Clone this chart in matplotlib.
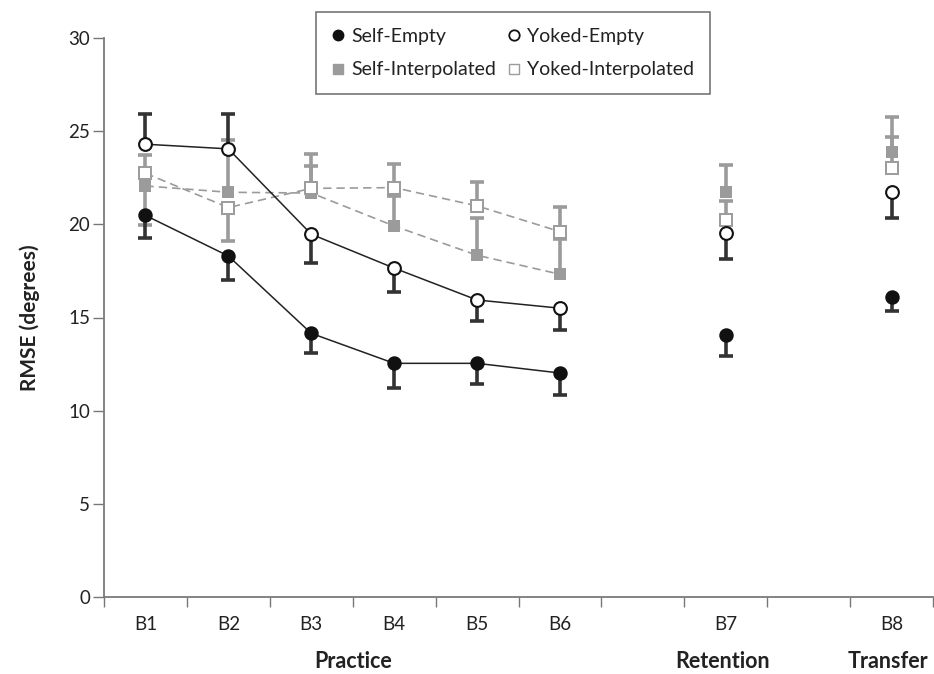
import matplotlib
matplotlib.use("Agg")
import matplotlib.pyplot as plt
from matplotlib.lines import Line2D
import numpy as np

plt.rcParams['font.family'] = ['Lato', 'DejaVu Sans']

blocks = ["B1", "B2", "B3", "B4", "B5", "B6", "B7", "B8"]
block_pos = [0, 1, 2, 3, 4, 5, 7, 9]
phases = ["Practice", "Retention", "Transfer"]

self_empty = [20.48, 18.3, 14.15, 12.54, 12.54, 12.02, 14.06, 16.12]
self_empty_lo = [1.23, 1.3, 1.07, 1.32, 1.1, 1.18, 1.12, 0.75]
self_empty_hi = [0, 0, 0, 0, 0, 0, 0, 0]

yoked_empty = [24.3, 24.05, 19.47, 17.65, 15.94, 15.5, 19.56, 21.76]
yoked_empty_lo = [0, 0, 1.54, 1.26, 1.13, 1.17, 1.43, 1.43]
yoked_empty_hi = [1.6, 1.85, 0, 0, 0, 0, 0, 0]

self_interp = [22.06, 21.72, 21.68, 19.91, 18.34, 17.32, 21.72, 23.9]
self_interp_lo = [2.09, 0, 0, 0, 0, 0, 0, 0]
self_interp_hi = [0, 2.8, 1.47, 1.6, 2.02, 1.9, 1.45, 1.85]

yoked_interp = [22.74, 20.9, 21.93, 21.97, 20.99, 19.61, 20.24, 23.05]
yoked_interp_lo = [0, 1.77, 0, 0, 0, 0, 0, 0]
yoked_interp_hi = [0.96, 0, 1.83, 1.25, 1.27, 1.34, 1.0, 1.63]

DARK = "#111111"
BAR_DARK = "#333333"
GRAY = "#9b9b9b"

fig = plt.figure(figsize=(9.34, 6.74), dpi=100)
ax = fig.add_axes([104/934, 77/674, 1 - 104/934 - 0.001, (597-38)/674])

x = np.array(block_pos, dtype=float)
n_prac = 6


def one_sided_bars(vals, lo, hi, color, z):
    vals = np.array(vals, dtype=float)
    lo = np.array(lo, dtype=float)
    hi = np.array(hi, dtype=float)
    for err, sign in ((lo, -1), (hi, 1)):
        m = err > 0
        if not m.any():
            continue
        ends = vals[m] + sign * err[m]
        ax.vlines(x[m], vals[m], ends, colors=color, lw=2.6, zorder=z)
        ax.plot(x[m], ends, ls='none', marker='_', ms=9.5, mew=2.6,
                color=color, zorder=z)


def draw(vals, lo, hi, marker, mfc, mec, mew, line_color, ls, bar_color, z):
    vals = np.array(vals, dtype=float)
    one_sided_bars(vals, lo, hi, bar_color, z)
    if ls == '--':
        ax.plot(x[:n_prac], vals[:n_prac], color=line_color, lw=1.2, ls='--',
                dashes=(5, 3), zorder=z + 0.1)
    else:
        ax.plot(x[:n_prac], vals[:n_prac], color=line_color, lw=1.1, ls='-',
                zorder=z + 0.1)
    ax.plot(x, vals, ls='none', marker=marker, ms=9.2, mfc=mfc, mec=mec,
            mew=mew, zorder=z + 0.2)


draw(self_interp, self_interp_lo, self_interp_hi, 's', GRAY, GRAY, 0,
     GRAY, '--', GRAY, 2)
draw(yoked_interp, yoked_interp_lo, yoked_interp_hi, 's', 'white', GRAY, 1.4,
     GRAY, '--', GRAY, 3)
draw(self_empty, self_empty_lo, self_empty_hi, 'o', DARK, DARK, 1.2,
     "#222222", '-', BAR_DARK, 4)
draw(yoked_empty, yoked_empty_lo, yoked_empty_hi, 'o', 'white', DARK, 1.5,
     "#222222", '-', BAR_DARK, 5)

ax.set_xlim(-0.5, 9.5)
ax.set_ylim(0, 30)
ax.set_yticks([0, 5, 10, 15, 20, 25, 30])
ax.set_xticks(np.arange(-0.5, 10, 1.0))
ax.set_xticklabels([])
ax.set_xticks(block_pos, minor=True)
ax.set_xticklabels(blocks, minor=True)
ax.tick_params(axis='x', which='minor', length=0, pad=14, labelsize=13.5,
               labelcolor="#222222")
ax.tick_params(axis='x', which='major', length=7, width=1, color="#777777",
               direction='out')
ax.tick_params(axis='y', length=8, width=1, color="#777777", labelsize=13.5,
               labelcolor="#222222", pad=2)
for s in ['top', 'right']:
    ax.spines[s].set_visible(False)
for s in ['left', 'bottom']:
    ax.spines[s].set_color("#7a7a7a")
    ax.spines[s].set_linewidth(1.3)

ax.set_ylabel("RMSE (degrees)", fontsize=15, fontweight='bold', labelpad=20,
              color="#222222")

phase_x = [2.5, 6.96, 8.95]
for px, name in zip(phase_x, phases):
    ax.text(px, -0.116, name, transform=ax.get_xaxis_transform(),
            ha='center', va='center', fontsize=15.5, fontweight='bold',
            color="#222222")

handles = [
    Line2D([], [], ls='none', marker='o', ms=7.5, mfc=DARK, mec=DARK),
    Line2D([], [], ls='none', marker='s', ms=7.5, mfc=GRAY, mec=GRAY),
    Line2D([], [], ls='none', marker='o', ms=7.5, mfc='white', mec=DARK, mew=1.3),
    Line2D([], [], ls='none', marker='s', ms=7.5, mfc='white', mec=GRAY, mew=1.0),
]
labels = ["Self-Empty", "Self-Interpolated", "Yoked-Empty", "Yoked-Interpolated"]
leg = fig.legend(handles, labels, ncol=2, loc='upper center',
                 bbox_to_anchor=(513/934, 1 - 12/674), fontsize=14,
                 frameon=True, fancybox=False, edgecolor="#555555",
                 handlelength=0.6, handletextpad=0.4, columnspacing=0.6,
                 borderpad=0.8, labelspacing=0.87, borderaxespad=0)
leg.get_frame().set_linewidth(1.2)
for t in leg.get_texts():
    t.set_color("#222222")

fig.savefig("out.png", dpi=100)
